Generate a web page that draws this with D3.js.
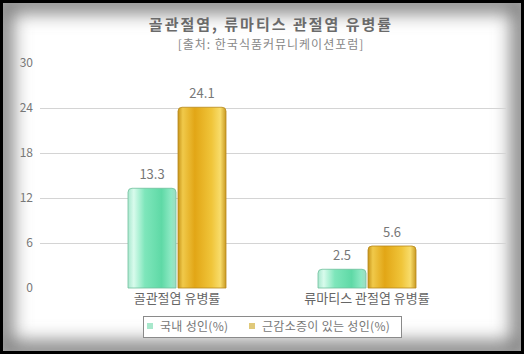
<!DOCTYPE html>
<html>
<head>
<meta charset="utf-8">
<script src="https://cdn.jsdelivr.net/npm/d3@7"></script>
<style>
  body { margin: 0; background: #000; }
  svg { display: block; font-family: "Noto Sans CJK KR", "Noto Sans", sans-serif; }
</style>
</head>
<body>
<div id="chart"></div>
<script>
const categories = ["골관절염 유병률", "류마티스 관절염 유병률"];
const seriesNames = ["국내 성인(%)", "근감소증이 있는 성인(%)"];
const domestic = [13.3, 2.5];
const sarcopenia = [24.1, 5.6];
const yTicks = [0, 6, 12, 18, 24, 30];

const width = 524, height = 354;
const svg = d3.select("#chart").append("svg")
    .attr("width", width)
    .attr("height", height);

const defs = svg.append("defs");

// vignette frame
const blur = defs.append("filter").attr("id", "vig")
    .attr("x", "-10%").attr("y", "-10%").attr("width", "120%").attr("height", "120%");
blur.append("feGaussianBlur").attr("stdDeviation", 9);
defs.append("clipPath").attr("id", "inner")
    .append("rect").attr("x", 3).attr("y", 3).attr("width", 518).attr("height", 348);

svg.append("rect").attr("width", width).attr("height", height).attr("fill", "#000");
const frame = svg.append("g").attr("clip-path", "url(#inner)");
frame.append("rect").attr("x", 3).attr("y", 3).attr("width", 518).attr("height", 348).attr("fill", "#fff");
frame.append("rect")
    .attr("x", 3).attr("y", 3).attr("width", 518).attr("height", 348)
    .attr("fill", "none")
    .attr("stroke", "#808080")
    .attr("stroke-width", 20)
    .attr("filter", "url(#vig)");

// bar gradients
function makeGrad(id, stops) {
    const g = defs.append("linearGradient").attr("id", id)
        .attr("x1", "0%").attr("x2", "100%").attr("y1", "0%").attr("y2", "0%");
    stops.forEach(s => g.append("stop").attr("offset", s[0]).attr("stop-color", s[1]));
}
makeGrad("gGreen", [["0%", "#a9e8cf"], ["12%", "#d8fbec"], ["35%", "#7ee6bb"], ["70%", "#5fd9a6"], ["90%", "#8ee9c4"], ["100%", "#9fdcc2"]]);
makeGrad("gGold", [["0%", "#c8951a"], ["10%", "#f0c94a"], ["35%", "#e2a616"], ["70%", "#f0c53a"], ["88%", "#f8dc6a"], ["100%", "#c99a22"]]);

const y = d3.scaleLinear().domain([0, 30]).range([288, 63]);
const x0 = d3.scaleBand().domain(categories).range([82, 462]);
const x1 = d3.scaleBand().domain(seriesNames).range([-49, 49]).paddingInner(0.04);

// title
svg.append("text")
    .attr("x", 271).attr("y", 30)
    .attr("text-anchor", "middle")
    .attr("font-size", 15).attr("font-weight", "bold")
    .attr("letter-spacing", 2)
    .attr("fill", "#6a6a6a")
    .text("골관절염, 류마티스 관절염 유병률");
svg.append("text")
    .attr("x", 271).attr("y", 49)
    .attr("text-anchor", "middle")
    .attr("font-size", 12)
    .attr("letter-spacing", 1)
    .attr("fill", "#888")
    .text("[출처: 한국식품커뮤니케이션포럼]");

// gridlines
svg.append("g").selectAll("line")
    .data(yTicks.filter(t => t > 0 && t < 30))
    .join("line")
    .attr("x1", 40).attr("x2", 506)
    .attr("y1", d => y(d) + 0.5).attr("y2", d => y(d) + 0.5)
    .attr("stroke", "#d4d4d4");

// y axis labels
const yAxis = svg.append("g")
    .attr("transform", "translate(33,0)")
    .call(d3.axisLeft(y).tickValues(yTicks).tickSize(0).tickPadding(0));
yAxis.select(".domain").remove();
yAxis.selectAll("text").attr("fill", "#777").attr("font-size", 12)
    .attr("font-family", "Noto Sans CJK KR, sans-serif");

const rows = categories.map((c, i) => ({ cat: c, values: [domestic[i], sarcopenia[i]] }));
const fills = ["url(#gGreen)", "url(#gGold)"];
const edges = ["#6fbf9c", "#b8891c"];

const groups = svg.append("g").selectAll("g")
    .data(rows).join("g")
    .attr("transform", d => `translate(${x0(d.cat) + x0.bandwidth() / 2},0)`);

groups.selectAll("path")
    .data(d => d.values.map((v, i) => ({ v, i })))
    .join("path")
    .attr("d", d => {
        const bx = x1(seriesNames[d.i]), bw = x1.bandwidth();
        const top = y(d.v), bot = y(0), r = 4;
        return `M${bx},${bot}V${top + r}Q${bx},${top} ${bx + r},${top}H${bx + bw - r}Q${bx + bw},${top} ${bx + bw},${top + r}V${bot}Z`;
    })
    .attr("fill", d => fills[d.i])
    .attr("stroke", d => edges[d.i])
    .attr("stroke-width", 0.8);

groups.selectAll("text.val")
    .data(d => d.values.map((v, i) => ({ v, i })))
    .join("text")
    .attr("class", "val")
    .attr("x", d => x1(seriesNames[d.i]) + x1.bandwidth() / 2)
    .attr("y", d => y(d.v) - 9)
    .attr("text-anchor", "middle")
    .attr("font-size", 13)
    .attr("fill", "#777")
    .text(d => d.v);

// category labels
svg.append("g").selectAll("text")
    .data(categories).join("text")
    .attr("x", d => x0(d) + x0.bandwidth() / 2)
    .attr("y", 303)
    .attr("text-anchor", "middle")
    .attr("font-size", 13)
    .attr("fill", "#666")
    .text(d => d);

// legend
const legend = svg.append("g");
legend.append("rect")
    .attr("x", 143.5).attr("y", 316.5).attr("width", 258).attr("height", 21)
    .attr("fill", "#fff").attr("stroke", "#8a8a8a");
const legendX = [147, 249];
const legendColors = ["#a8e8cc", "#e0c97a"];
seriesNames.forEach((s, i) => {
    legend.append("rect")
        .attr("x", legendX[i]).attr("y", 323).attr("width", 6).attr("height", 6)
        .attr("fill", legendColors[i]);
    legend.append("text")
        .attr("x", legendX[i] + 13).attr("y", 331)
        .attr("font-size", 12)
        .attr("letter-spacing", 0.3)
        .attr("fill", "#777")
        .text(s);
});
</script>
</body>
</html>
